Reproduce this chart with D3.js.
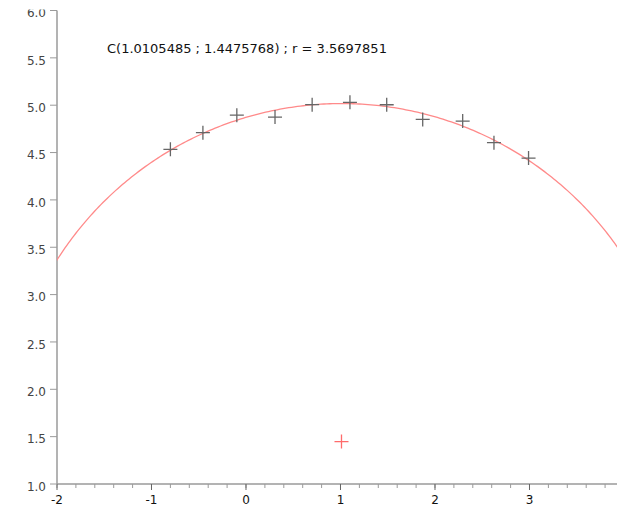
<!DOCTYPE html>
<html>
<head>
<meta charset="utf-8">
<script src="https://cdn.jsdelivr.net/npm/d3@7"></script>
<style>
  body { margin: 0; background: #fff; }
  svg { display: block; font-family: "DejaVu Sans", sans-serif; }
</style>
</head>
<body>
<svg id="chart" width="617" height="508"></svg>
<script>
"use strict";
// measured points
const xs = [-0.80, -0.456, -0.097, 0.307, 0.70, 1.10, 1.489, 1.870, 2.293, 2.624, 2.99];
const ys = [4.534, 4.71, 4.895, 4.875, 5.006, 5.03, 5.005, 4.850, 4.832, 4.604, 4.442];
// fitted circle
const center = [1.0105485, 1.4475768];
const radius = 3.5697851;
const xTicks = [-2, -1, 0, 1, 2, 3];
const yTicks = [1.0, 1.5, 2.0, 2.5, 3.0, 3.5, 4.0, 4.5, 5.0, 5.5, 6.0];
const label = "C(1.0105485 ; 1.4475768) ; r = 3.5697851";

const svg = d3.select("#chart");
const x = d3.scaleLinear().domain([-2, 3.926]).range([57, 617]);
const y = d3.scaleLinear().domain([1, 6]).range([484, 10.5]);

const axisColor = "#9a9a9a";

// x axis with minor ticks
const xg = svg.append("g").attr("transform", `translate(0,${y(1)})`);
xg.append("line").attr("x1", x(-2)).attr("x2", 617).attr("stroke", axisColor).attr("stroke-width", 1.5);
xg.selectAll("line.minor").data(d3.range(-2, 3.95, 0.2)).join("line")
  .attr("class", "minor")
  .attr("x1", d => x(d)).attr("x2", d => x(d))
  .attr("y1", 0).attr("y2", 4).attr("stroke", axisColor);
xg.selectAll("line.major").data(xTicks).join("line")
  .attr("class", "major")
  .attr("x1", d => x(d)).attr("x2", d => x(d))
  .attr("y1", 0).attr("y2", 6).attr("stroke", "#666");
xg.selectAll("text").data(xTicks).join("text")
  .attr("x", d => x(d)).attr("y", 20)
  .attr("text-anchor", "middle").attr("font-size", 12).attr("fill", "#111")
  .text(d => d);

// y axis, labels clipped at the top like the original crop
svg.append("clipPath").attr("id", "ylab").append("rect")
  .attr("x", 0).attr("y", 9.5).attr("width", 60).attr("height", 500);
const yg = svg.append("g").attr("transform", `translate(${x(-2)},0)`);
yg.append("line").attr("y1", y(6)).attr("y2", y(1)).attr("stroke", axisColor).attr("stroke-width", 1.5);
yg.selectAll("line.tick").data(yTicks).join("line")
  .attr("class", "tick")
  .attr("x1", -7).attr("x2", 0)
  .attr("y1", d => y(d)).attr("y2", d => y(d)).attr("stroke", axisColor);
svg.append("g").attr("clip-path", "url(#ylab)")
  .selectAll("text").data(yTicks).join("text")
  .attr("x", x(-2) - 11).attr("y", d => y(d) + 2.5).attr("dy", "0.35em")
  .attr("text-anchor", "end").attr("font-size", 12).attr("fill", "#444")
  .text(d => d3.format(".1f")(d));

// circle arc, clipped to plot
svg.append("clipPath").attr("id", "plot").append("rect")
  .attr("x", x(-2)).attr("y", 0).attr("width", 617 - x(-2)).attr("height", y(1));
const angles = d3.range(0, Math.PI + 0.001, Math.PI / 360);
const line = d3.line()
  .x(a => x(center[0] + radius * Math.cos(a)))
  .y(a => y(center[1] + radius * Math.sin(a)));
svg.append("path").attr("d", line(angles)).attr("clip-path", "url(#plot)")
  .attr("fill", "none").attr("stroke", "#ff8a8a").attr("stroke-width", 1.3);

// plus markers
function plus(g, px, py, color) {
  g.append("path")
    .attr("d", `M${px - 7},${py}H${px + 7}M${px},${py - 7}V${py + 7}`)
    .attr("stroke", color).attr("stroke-width", 1.3).attr("fill", "none");
}
const pts = svg.append("g");
xs.forEach((d, i) => plus(pts, x(d), y(ys[i]), "#666"));
plus(pts, x(center[0]), y(center[1]), "#ff6b6b");

svg.append("text").attr("x", 107).attr("y", 53)
  .attr("font-size", 13).attr("fill", "#111").text(label);
</script>
</body>
</html>
